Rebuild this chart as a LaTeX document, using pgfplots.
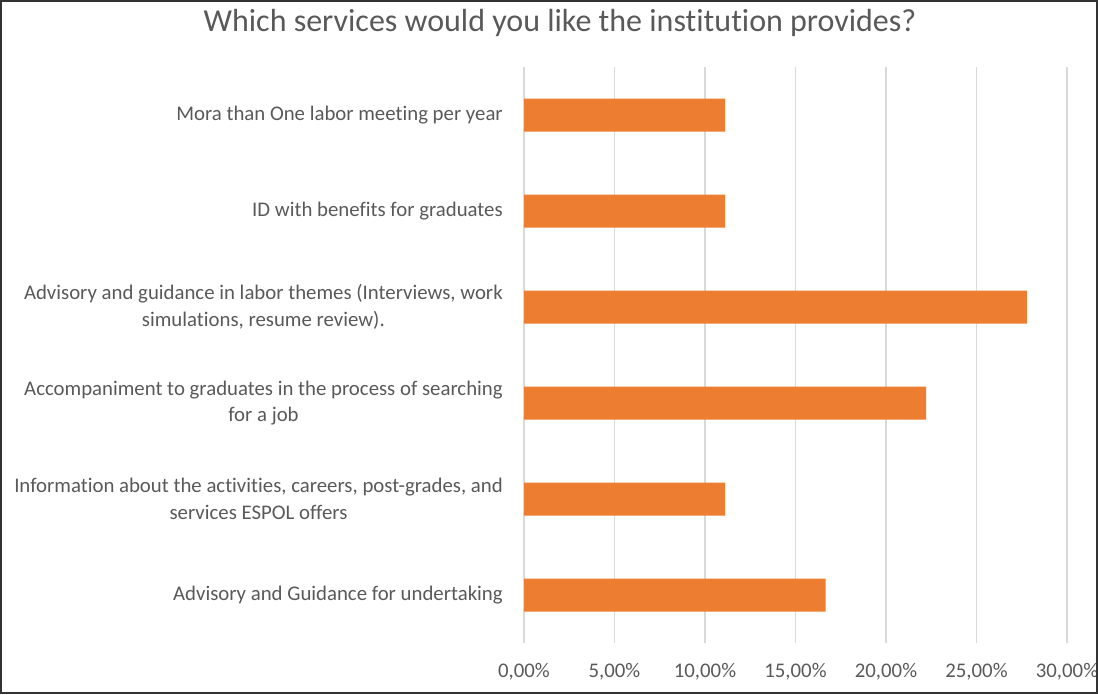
\documentclass[border=0pt]{standalone}
\usepackage{pgfplots}
\pgfplotsset{compat=1.18}
\usepackage{fontspec}
\setmainfont[Ligatures={NoCommon,NoRare}]{Carlito}
\definecolor{barorange}{HTML}{ED7D31}
\definecolor{txtgray}{HTML}{595959}
\definecolor{gridgray}{HTML}{D9D9D9}
\begin{document}
\begin{tikzpicture}[x=1pt,y=1pt]
\path[use as bounding box] (0,0) rectangle (823.5,520.5);
\begin{axis}[
  at={(393pt,38.25pt)}, anchor=south west,
  scale only axis,
  width=407.25pt, height=432pt,
  xbar, bar width=24.75pt,
  xmin=0, xmax=0.30,
  ymin=-0.5, ymax=5.5,
  axis line style={draw=none},
  major tick length=0pt,
  xmajorgrids, major grid style={gridgray, line width=0.8pt},
  xtick={0,0.05,0.10,0.15,0.20,0.25,0.30},
  xticklabels={{0,00\%},{5,00\%},{10,00\%},{15,00\%},{20,00\%},{25,00\%},{30,00\%}},
  ytick={0,1,2,3,4,5},
  yticklabels={
    {Advisory and Guidance for undertaking},
    {Information about the activities, careers, post-grades, and\\services ESPOL offers},
    {Accompaniment to graduates in the process of searching\\for a job},
    {Advisory and guidance in labor themes (Interviews, work\\simulations, resume review).},
    {ID with benefits for graduates},
    {Mora than One labor meeting per year}},
  yticklabel style={align=center, inner sep=0pt, xshift=-15.75pt, font=\fontsize{15.6}{20}\selectfont, text=txtgray},
  xticklabel style={inner sep=0pt, anchor=base, yshift=-25.5pt, font=\fontsize{15.6}{20}\selectfont, text=txtgray},
  /pgf/number format/assume math mode=true,
  clip=false,
]
\addplot[fill=barorange, draw=none] coordinates {
  (0.1667,0) (0.1111,1) (0.2222,2) (0.2778,3) (0.1111,4) (0.1111,5)
};
\end{axis}
\node[text=txtgray, font=\fontsize{24}{28}\selectfont] at (420,503) {Which services would you like the institution provides?};
\draw[line width=1.5pt, black!80] (0.75,0.75) rectangle (822.75,519.75);
\end{tikzpicture}
\end{document}
